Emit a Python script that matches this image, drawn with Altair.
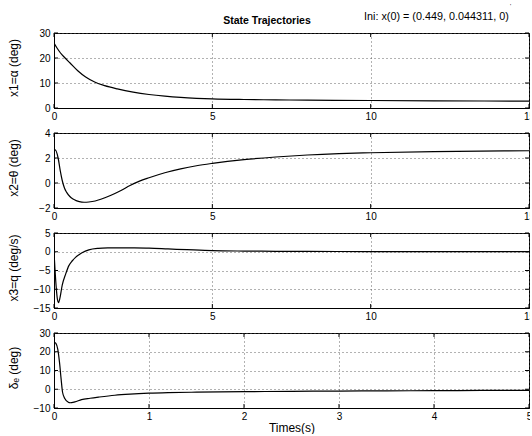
import altair as alt
import pandas as pd

# Simulated state trajectories (degrees / deg per second)
t_alpha = [0, 0.1, 0.2, 0.35, 0.5, 0.75, 1.0, 1.3, 1.6, 2.0, 2.5, 3.0, 3.5, 4.0, 4.5, 5.0,
           6, 7, 8, 10, 12, 15]
alpha = [26, 23.9, 22.1, 20.0, 18.1, 14.9, 12.4, 10.3, 8.95, 7.65, 6.35, 5.4, 4.72, 4.22, 3.88, 3.65,
         3.4, 3.25, 3.15, 3.0, 2.88, 2.75]

t_theta = [0, 0.04, 0.13, 0.2, 0.26, 0.33, 0.4, 0.5, 0.6, 0.7, 0.8, 0.95, 1.1, 1.3, 1.5, 1.8, 2.1,
           2.4, 2.7, 3.0, 3.5, 4.0, 4.5, 5.0, 6, 7, 8, 9, 10, 12, 15]
theta = [2.5, 2.65, 2.0, 0.95, 0.2, -0.4, -0.75, -1.08, -1.28, -1.41, -1.49, -1.54, -1.52, -1.44,
         -1.28, -0.98, -0.62, -0.2, 0.15, 0.42, 0.82, 1.13, 1.38, 1.57, 1.87, 2.08, 2.24, 2.35, 2.42,
         2.51, 2.58]

t_q = [0, 0.03, 0.07, 0.11, 0.14, 0.18, 0.26, 0.37, 0.47, 0.58, 0.68, 0.8, 0.9, 1.1, 1.4, 1.7, 2.0,
       2.5, 3.0, 3.6, 4.2, 5.0, 6.0, 7.0, 8.0, 10, 12, 15]
q = [0, -4.5, -9.5, -12.8, -13.6, -12.6, -8.9, -5.9, -3.7, -2.4, -1.5, -0.75, -0.2, 0.5, 0.9, 1.02,
     1.05, 1.02, 0.95, 0.75, 0.55, 0.3, 0.18, 0.12, 0.08, 0.05, 0.03, 0.01]

t_de = [0, 0.02, 0.04, 0.058, 0.075, 0.09, 0.115, 0.15, 0.17, 0.22, 0.29, 0.38, 0.47, 0.64, 0.8, 1.0,
        1.2, 1.5, 2.0, 2.5, 3.0, 3.5, 4.0, 4.5, 5.0]
delta_e = [25.2, 24.5, 21.3, 14.3, 5.4, -1.6, -5.1, -6.9, -7.2, -6.7, -5.5, -4.8, -4.2, -3.2, -2.6,
           -2.1, -1.8, -1.55, -1.3, -1.1, -0.95, -0.85, -0.75, -0.65, -0.55]

x_ticks_long = [0, 5, 10, 15]
x_ticks_short = [0, 1, 2, 3, 4, 5]

FONT = "Liberation Sans"
W, H = 475, 75
TICK = 4


def panel(t, v, ylabel, xticks, yticks, xtitle=None, extra=None):
    xdom = [xticks[0], xticks[-1]]
    ydom = [yticks[0], yticks[-1]]
    x_enc = alt.X(
        "t:Q",
        scale=alt.Scale(domain=xdom, nice=False, zero=False),
        axis=alt.Axis(values=xticks, title=xtitle, labelPadding=3, format="d",
                      labelFlush=False, labelOverlap=False),
    )
    y_enc = alt.Y(
        "v:Q",
        scale=alt.Scale(domain=ydom, nice=False, zero=False),
        axis=alt.Axis(values=yticks, title=ylabel, labelPadding=4, format="d",
                      labelFlush=False, labelOverlap=False,
                      titleX=-41, titleY=H / 2 - 3, titleAngle=270,
                      titleBaseline="middle", titleAlign="center"),
    )
    line = alt.Chart(pd.DataFrame({"t": t, "v": v})).mark_line(
        color="black", strokeWidth=1.2, clip=True, interpolate="monotone"
    ).encode(x=x_enc, y=y_enc)
    # inward tick marks on all four sides of the box
    xt = alt.Chart(pd.DataFrame({"t": xticks})).mark_rule(color="black", strokeWidth=1)
    yt = alt.Chart(pd.DataFrame({"v": yticks})).mark_rule(color="black", strokeWidth=1)
    ticks = [
        xt.encode(x=x_enc, y=alt.value(0), y2=alt.value(TICK)),
        xt.encode(x=x_enc, y=alt.value(H - TICK), y2=alt.value(H)),
        yt.encode(y=y_enc, x=alt.value(0), x2=alt.value(TICK)),
        yt.encode(y=y_enc, x=alt.value(W - TICK), x2=alt.value(W)),
    ]
    layers = [line] + ticks + (extra or [])
    return alt.layer(*layers).properties(width=W, height=H)


annotations = [
    alt.Chart(pd.DataFrame({"s": ["State Trajectories"]})).mark_text(
        font=FONT, fontSize=10.5, fontWeight="bold", align="center",
        baseline="alphabetic", color="black").encode(
        text="s:N", x=alt.value(213), y=alt.value(-9)),
    alt.Chart(pd.DataFrame({"s": ["Ini: x(0) = (0.449, 0.044311, 0)"]})).mark_text(
        font=FONT, fontSize=10.8, align="left", baseline="alphabetic", color="black").encode(
        text="s:N", x=alt.value(310), y=alt.value(-13)),
    alt.Chart(pd.DataFrame({"s": ["'"]})).mark_text(
        font=FONT, fontSize=6, align="left", baseline="alphabetic", color="black").encode(
        text="s:N", x=alt.value(456), y=alt.value(-25)),
]

p1 = panel(t_alpha, alpha, "x1=α (deg)", x_ticks_long, [0, 10, 20, 30], extra=annotations)
p2 = panel(t_theta, theta, "x2=θ (deg)", x_ticks_long, [-2, 0, 2, 4])
p3 = panel(t_q, q, "x3=q (deg/s)", x_ticks_long, [-15, -10, -5, 0, 5])
p4 = panel(t_de, delta_e, "δₑ (deg)", x_ticks_short, [-10, 0, 10, 20, 30], xtitle="Times(s)")

chart = alt.vconcat(p1, p2, p3, p4, spacing=25, bounds="flush").properties(
    padding={"left": 6, "top": 2, "right": -6, "bottom": 0},
).configure(font=FONT).configure_view(
    stroke="black", strokeWidth=1
).configure_axis(
    domain=True, domainColor="black", domainWidth=1, ticks=False,
    labelFont=FONT, labelFontSize=10, labelColor="black",
    titleFont=FONT, titleFontSize=12, titleFontWeight="normal", titleColor="black",
    grid=True, gridColor="#555555", gridDash=[1, 3], gridWidth=1, gridOpacity=0.9,
).configure_axisX(titlePadding=1)

chart.save("out.html", embed_options={"renderer": "svg", "actions": False})
